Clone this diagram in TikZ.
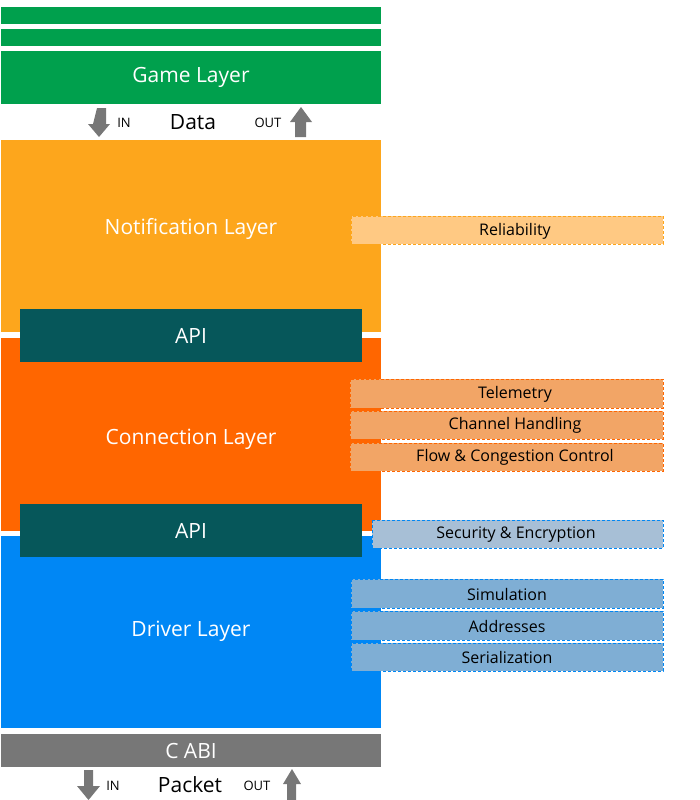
\documentclass[tikz,border=0pt]{standalone}
\usepackage{fontspec}
\setmainfont{Open Sans}
\definecolor{cgreen}{HTML}{00A04D}
\definecolor{cnotif}{HTML}{FDA61C}
\definecolor{cconn}{HTML}{FF6600}
\definecolor{cdriver}{HTML}{0087F5}
\definecolor{capi}{HTML}{06575A}
\definecolor{cgray}{HTML}{777777}
\definecolor{crel}{HTML}{FFC983}
\definecolor{cconnbox}{HTML}{F2A566}
\definecolor{csec}{HTML}{A7BFD6}
\definecolor{cdrvbox}{HTML}{7FAED4}
\begin{document}
\begin{tikzpicture}[x=1pt,y=-1pt,
  layer/.style={fill=#1, draw=none, text=white, font=\fontsize{21}{25}\selectfont},
  sidebox/.style n args={2}{fill=#1, draw=#2, densely dashed, line width=0.6pt},
  sidetext/.style={text=black, font=\fontsize{16}{19}\selectfont},
  small/.style={font=\fontsize{13}{15}\selectfont, text=black},
  big/.style={font=\fontsize{21}{25}\selectfont, text=black},
  blockarrow/.style={fill=cgray, draw=none}]
\useasboundingbox (0,0) rectangle (700,800);
% green strips and game layer
\fill[cgreen] (1,7) rectangle (381,24);
\fill[cgreen] (1,29) rectangle (381,46);
\fill[cgreen] (1,51) rectangle (381,104);
\node[layer=cgreen] (game) at (191,77.5) {Game Layer};
% data row
\fill[blockarrow] (97,108) -- (106,108) -- (106,124) -- (110,124) -- (99,137) -- (88,124) -- (93,124) -- cycle;
\node[small] (in1) at (124,123) {IN};
\node[big] (data) at (193,122) {Data};
\node[small] (out1) at (268,123) {OUT};
\fill[blockarrow] (295,137) -- (306,137) -- (306,122) -- (312,122) -- (301,107) -- (290,122) -- (295,122) -- cycle;
% layers
\fill[cnotif] (1,140) rectangle (381,332);
\node[layer=cnotif] (notif) at (191,229) {Notification Layer};
\fill[cconn] (1,338) rectangle (381,531);
\node[layer=cconn] (conn) at (191,439) {Connection Layer};
\fill[cdriver] (1,536) rectangle (381,728);
\node[layer=cdriver] (drv) at (191,631) {Driver Layer};
% API boxes
\fill[capi] (20,309) rectangle (362,362);
\node[layer=capi] (api1) at (191,336) {API};
\fill[capi] (20,504) rectangle (362,557);
\node[layer=capi] (api2) at (191,531) {API};
% C ABI
\fill[cgray] (1,734) rectangle (381,767);
\node[layer=cgray] (cabi) at (191,751) {C ABI};
% packet row
\fill[blockarrow] (84,770) -- (93,770) -- (93,786) -- (100,786) -- (88.5,800) -- (77,786) -- (84,786) -- cycle;
\node[small] (in2) at (113,786) {IN};
\node[big] (packet) at (190,785) {Packet};
\node[small] (out2) at (257,786) {OUT};
\fill[blockarrow] (287,800) -- (296,800) -- (296,784) -- (301,784) -- (292,769) -- (283,784) -- (287,784) -- cycle;
% side boxes
\draw[sidebox={crel}{cnotif}] (351,216) rectangle (663,244);
\node[sidetext] (rel) at (515,231) {Reliability};
\draw[sidebox={cconnbox}{cconn}] (350,379) rectangle (663,408);
\node[sidetext] (tel) at (515,394) {Telemetry};
\draw[sidebox={cconnbox}{cconn}] (350,411) rectangle (663,439);
\node[sidetext] (chan) at (515,425.5) {Channel Handling};
\draw[sidebox={cconnbox}{cconn}] (350,443) rectangle (663,471);
\node[sidetext] (flow) at (515,457.5) {Flow \& Congestion Control};
\draw[sidebox={csec}{cdriver}] (372,520) rectangle (663,548);
\node[sidetext] (sec) at (516,534.5) {Security \& Encryption};
\draw[sidebox={cdrvbox}{cdriver}] (351,579) rectangle (663,608);
\node[sidetext] (sim) at (507,594) {Simulation};
\draw[sidebox={cdrvbox}{cdriver}] (351,611) rectangle (663,640);
\node[sidetext] (addr) at (507,626) {Addresses};
\draw[sidebox={cdrvbox}{cdriver}] (351,643) rectangle (663,671);
\node[sidetext] (ser) at (507,657.5) {Serialization};
\end{tikzpicture}
\end{document}
